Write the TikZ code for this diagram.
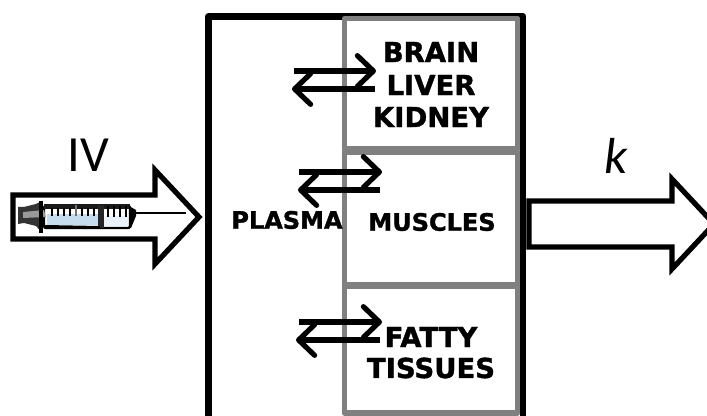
\documentclass[tikz,border=0pt]{standalone}
\usepackage{fontspec}
\setmainfont{DejaVu Sans}[BoldFeatures={FakeBold=1.4}]
\newfontfamily\calfont{Carlito}
\usetikzlibrary{arrows.meta}
\definecolor{boxgrey}{HTML}{808080}
\definecolor{syrblue}{HTML}{C5DCEF}
\definecolor{syrpale}{HTML}{EAF3FA}
\tikzset{
  x=0.75pt,y=-0.75pt,
  organ/.style={draw=boxgrey,line width=4.2pt,fill=white,line join=round},
  bigarrow/.style={draw=black,line width=3.9pt,fill=white,line join=miter},
  flux/.style={line width=3.9pt,-{Straight Barb[length=12pt,width=23pt,line width=3.9pt,round]}},
  lab/.style={font=\bfseries\fontsize{20.6pt}{24pt}\selectfont,align=center,inner sep=0pt},
  labsmall/.style={font=\bfseries\fontsize{18pt}{22pt}\selectfont,align=center,inner sep=0pt},
  big/.style={font=\calfont\fontsize{38pt}{38pt}\selectfont,inner sep=0pt}
}
\begin{document}
\begin{tikzpicture}
\useasboundingbox (0,0) rectangle (707,416);
\clip (0,0) rectangle (707,416);
% compartment outline
\draw[line width=5.2pt,line join=round] (208.5,430) -- (208.5,16.5) -- (523,16.5) -- (523,430);
% organ boxes
\path[organ] (344.5,18.5) rectangle (517.5,149);
\path[organ] (344.5,152) rectangle (517.5,285);
\path[organ] (344.5,286) rectangle (517.5,413);
% large arrows
\path[bigarrow] (13,195) -- (155,195) -- (155,170) -- (199,217) -- (155,264) -- (155,239) -- (13,239) -- cycle;
\path[bigarrow] (529,201) -- (672,201) -- (672,179) -- (714,224) -- (672,269) -- (672,247) -- (529,247) -- cycle;
% syringe
\draw[line width=1.1pt] (135,213) -- (186,213);
\fill[white,draw=black,line width=1.8pt,rounded corners=1.5pt] (44,206) rectangle (130,228);
\fill[syrblue] (47,214) rectangle (101,225);
\fill[syrpale] (103,216) rectangle (128,226);
\fill[black!90] (44,204) rectangle (130,209);
\fill[black!85] (98,205) rectangle (104,228);
\draw[line width=1.5pt] (45,226) -- (100,227);
\foreach \px in {52,58,...,94} {\draw[line width=1.1pt] (\px,208) -- (\px,216);}
\draw[black!55,line width=1pt] (76,205) -- (76,216);
\foreach \px in {108,114,120,126} {\draw[line width=.9pt] (\px,206) -- (\px,217);}
\fill[black] (129,206) -- (136,210) -- (136,216) -- (131,228) -- (129,228) -- cycle;
\fill[black!80] (18,207) -- (24,207) -- (36,204) -- (42,201) -- (42,233) -- (36,226) -- (24,223) -- (18,224) -- cycle;
\fill[black!40] (23,212) -- (44,210) -- (46,217) -- (23,218) -- cycle;
\draw[line width=3pt] (41,201) -- (41,233);
% exchange arrows
\coordinate (a1s) at (294,71); \coordinate (a1e) at (376,71);
\coordinate (b1s) at (375,89); \coordinate (b1e) at (292,89);
\coordinate (a2s) at (299,172); \coordinate (a2e) at (382,172);
\coordinate (b2s) at (380,190); \coordinate (b2e) at (298,190);
\coordinate (a3s) at (299,322); \coordinate (a3e) at (382,322);
\coordinate (b3s) at (380,340); \coordinate (b3e) at (296,340);
\foreach \s/\e in {a1s/a1e,b1s/b1e,a2s/a2e,b2s/b2e,a3s/a3e,b3s/b3e} {\draw[flux] (\s) -- (\e);}
% labels
\node[lab] (brain) at (431,52) {BRAIN};
\node[lab] (liver) at (431,85) {LIVER};
\node[lab] (kidney) at (431,117) {KIDNEY};
\node[labsmall] (muscles) at (432,222) {MUSCLES};
\node[labsmall] (plasma) at (287,220) {PLASMA};
\node[lab] (fatty) at (431,337) {FATTY};
\node[lab] (tissues) at (431,368) {TISSUES};
\node[big] (iv) at (88,155) {IV};
\node[big] (k) at (616,156) {\itshape k};
\end{tikzpicture}
\end{document}
